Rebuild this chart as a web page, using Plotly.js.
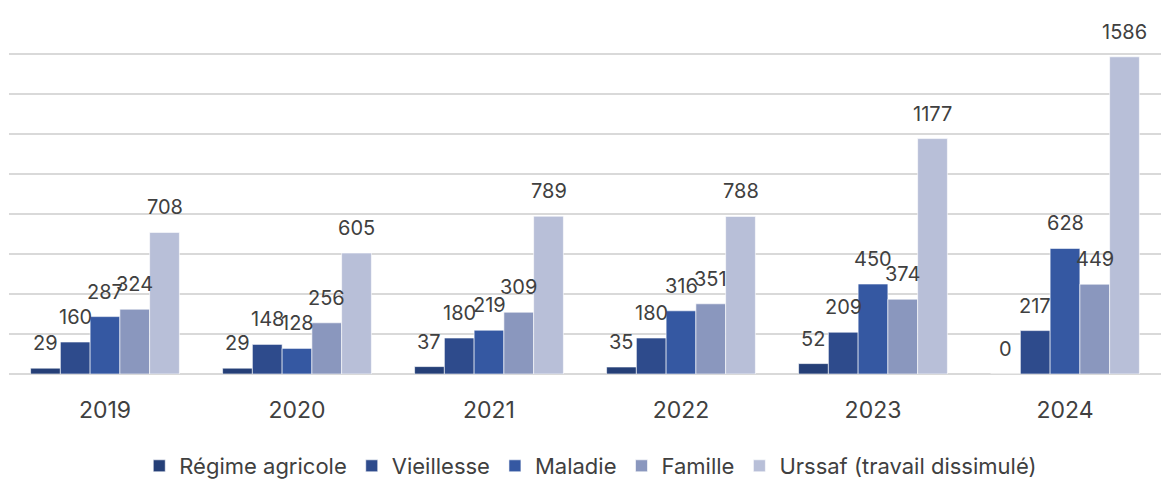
<!DOCTYPE html>
<html><head><meta charset="utf-8">
<script src="https://cdn.plot.ly/plotly-3.0.1.min.js"></script>
<style>html,body{margin:0;padding:0;background:#fff;overflow:hidden}</style>
</head><body><div id="chart" style="width:1161px;height:479px"></div>
<script>
const years = ["2019","2020","2021","2022","2023","2024"];
const seriesNames = ["Régime agricole","Vieillesse","Maladie","Famille","Urssaf (travail dissimulé)"];
const regimeAgricole = [29, 29, 37, 35, 52, 0];
const vieillesse = [160, 148, 180, 180, 209, 217];
const maladie = [287, 128, 219, 316, 450, 628];
const famille = [324, 256, 309, 351, 374, 449];
const urssaf = [708, 605, 789, 788, 1177, 1586];
const colors = ["#253f77","#2e4b8c","#3558a2","#8a97be","#b8bfd8"];

const allSeries = [regimeAgricole, vieillesse, maladie, famille, urssaf];
const bargap = 0.225;
const font = "Inter, 'Noto Sans', sans-serif";

const traces = allSeries.map((vals, i) => ({
  type: "bar", x: years, y: vals, name: seriesNames[i],
  marker: {color: colors[i], line: {color: "rgba(255,255,255,0.6)", width: 1}},
  hoverinfo: "skip"
}));

const nS = allSeries.length;
const bw = (1 - bargap) / nS;
const annotations = [];
allSeries.forEach((vals, i) => {
  vals.forEach((v, j) => {
    annotations.push({
      x: j + (i - (nS - 1) / 2) * bw, y: v, xref: "x", yref: "y",
      text: String(v), showarrow: false, yanchor: "bottom", yshift: 11,
      font: {family: font, size: 20, color: "#404040"}
    });
  });
});

const layout = {
  width: 1161, height: 479,
  margin: {l: 9, r: 0, t: 14, b: 105},
  paper_bgcolor: "#fff", plot_bgcolor: "#fff",
  barmode: "group", bargap: bargap, bargroupgap: 0,
  showlegend: true,
  legend: {orientation: "h", x: 0.505, xanchor: "center", yref: "container", y: 13/479, yanchor: "middle",
    font: {family: font, size: 22, color: "#404040"}, traceorder: "normal"},
  xaxis: {type: "category", showgrid: false, zeroline: false, showline: false, ticks: "",
    ticklabelstandoff: 20, tickfont: {family: font, size: 23, color: "#404040"}},
  yaxis: {range: [0, 1800], dtick: 200, showticklabels: false, showgrid: true,
    gridcolor: "#d9d9d9", gridwidth: 1.5, zeroline: true, zerolinecolor: "#d9d9d9", zerolinewidth: 1.5, ticks: ""},
  annotations: annotations,
  font: {family: font, color: "#404040"}
};
Plotly.newPlot("chart", traces, layout, {displayModeBar: false, staticPlot: true});
</script></body></html>
